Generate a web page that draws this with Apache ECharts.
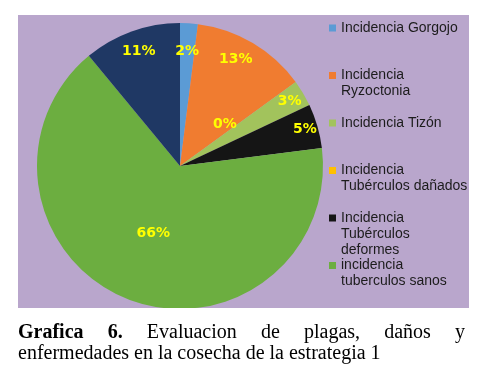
<!DOCTYPE html>
<html>
<head>
<meta charset="utf-8">
<script src="https://cdn.jsdelivr.net/npm/echarts@6/dist/echarts.min.js"></script>
<style>
html, body { margin: 0; padding: 0; background: #fff; }
#chart { position: absolute; left: 0; top: 0; width: 480px; height: 378px; }
.caption {
  position: absolute; left: 18px; top: 321px; width: 447px;
  font-family: 'Liberation Serif', 'Times New Roman', serif;
  font-size: 20px; line-height: 21px; color: #000;
}
.caption .l1 { text-align: justify; text-align-last: justify; }
</style>
</head>
<body>
<div id="chart"></div>
<div class="caption">
  <div class="l1"><b>Grafica</b> <b>6.</b> Evaluacion de plagas, daños y</div>
  <div>enfermedades en la cosecha de la estrategia 1</div>
</div>
<script>
// datos
const categories = [
  'Incidencia Gorgojo',
  'Incidencia Ryzoctonia',
  'Incidencia Tizón',
  'Incidencia Tubérculos dañados',
  'Incidencia Tubérculos deformes',
  'incidencia tuberculos sanos',
  'Otros'
];
const values = [2, 13, 3, 0, 5, 66, 11];
const colors = ['#5b9bd5', '#f07c30', '#a2c35c', '#ffc000', '#151515', '#6cae40', '#1f3864'];
// texto de la leyenda (solo 6 entradas visibles)
const legendText = [
  'Incidencia Gorgojo',
  'Incidencia\nRyzoctonia',
  'Incidencia Tizón',
  'Incidencia\nTubérculos dañados',
  'Incidencia\nTubérculos\ndeformes',
  'incidencia\ntuberculos sanos'
];

const R = 143;
const cx = 180, cy = 166;
// radio relativo de cada etiqueta y pequeño giro (grados)
const labelRadius = [0.80, 0.84, 0.89, 0.43, 0.91, 0.51, 0.85];
const labelTurn = [0, -3, 0, -18, 0, 0, 0];

const lineH = 16;
const firstLineCenter = [28, 75.5, 123, 170.5, 218, 265.5];

const chart = echarts.init(document.getElementById('chart'));

// lineas vacias delante para que el icono quede en la primera linea
const legends = legendText.map((txt, i) => {
  const n = txt.split('\n').length;
  return {
    orient: 'vertical',
    left: 329,
    top: firstLineCenter[i] - lineH / 2 - lineH * (n - 1),
    padding: 0,
    icon: 'rect',
    itemWidth: 7,
    itemHeight: 7,
    selectedMode: false,
    data: [categories[i]],
    formatter: () => '\n'.repeat(n - 1) + txt,
    textStyle: {
      fontFamily: 'Liberation Sans, Arial, sans-serif',
      fontSize: 14,
      lineHeight: lineH,
      color: '#1c1c1c'
    }
  };
});

const option = {
  backgroundColor: '#fff',
  animation: false,
  color: colors,
  graphic: [
    {
      type: 'rect', z: -10, silent: true,
      shape: { x: 18, y: 15, width: 451, height: 293 },
      style: { fill: '#b9a6cc' }
    },
    {
      type: 'rect', z: 100, silent: true,
      shape: { x: 0, y: 308, width: 480, height: 12 },
      style: { fill: '#fff' }
    }
  ],
  legend: legends,
  series: [{
    type: 'pie',
    center: [cx, cy],
    radius: [0, R],
    startAngle: 90,
    clockwise: true,
    avoidLabelOverlap: false,
    minShowLabelAngle: 0,
    data: categories.map((c, i) => ({ name: c, value: values[i] })),
    itemStyle: { borderWidth: 0 },
    label: {
      show: true,
      position: 'inside',
      formatter: p => p.value + '%',
      color: '#ffff00',
      fontFamily: 'DejaVu Sans, Verdana, sans-serif',
      fontWeight: 'bold',
      fontSize: 14
    },
    labelLine: { show: false },
    labelLayout: function (p) {
      const r = p.labelRect;
      const lx = r.x + r.width / 2, ly = r.y + r.height / 2;
      const ang = Math.atan2(lx - cx, cy - ly) + labelTurn[p.dataIndex] * Math.PI / 180;
      const d = labelRadius[p.dataIndex] * R;
      return {
        x: cx + d * Math.sin(ang),
        y: cy - d * Math.cos(ang),
        align: 'center',
        verticalAlign: 'middle'
      };
    }
  }]
};
chart.setOption(option);
</script>
</body>
</html>
